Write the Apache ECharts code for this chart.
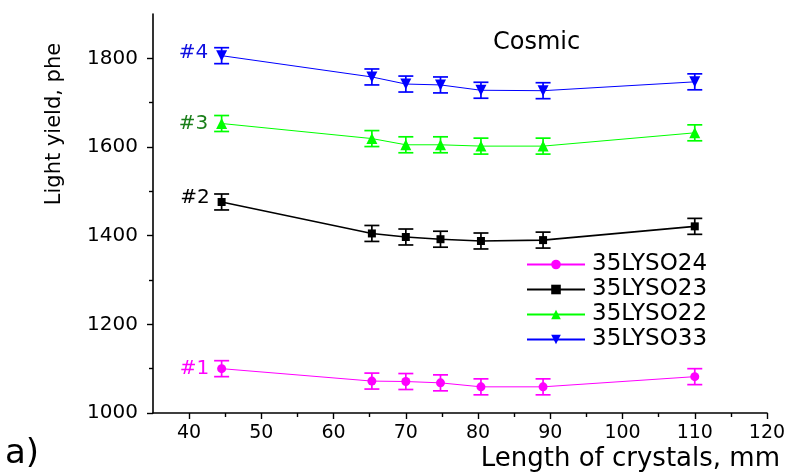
<!DOCTYPE html>
<html>
<head>
<meta charset="utf-8">
<script src="https://cdn.jsdelivr.net/npm/echarts@6/dist/echarts.min.js"></script>
<style>
  html, body { margin: 0; padding: 0; background: #ffffff; }
  #chart { width: 791px; height: 476px; }
</style>
</head>
<body>
<div id="chart"></div>
<script>
// Crystal lengths (mm) at which light yield was measured
const lengthsMm = [44.5, 65.3, 70, 74.8, 80.4, 89, 110];

// Sample names and their short tags
const seriesNames = ['35LYSO24', '35LYSO23', '35LYSO22', '35LYSO33'];
const crystalTags = ['#1', '#2', '#3', '#4'];

// Light yield, photoelectrons (cosmic muons)
const yield24 = [1100, 1072, 1071, 1068, 1059, 1059, 1082];
const yield23 = [1476, 1405, 1397, 1392, 1388, 1390, 1421];
const yield22 = [1653, 1619, 1605, 1605, 1602, 1602, 1632];
const yield33 = [1806, 1758, 1742, 1740, 1728, 1727, 1747];

// Measurement uncertainties (+/-), photoelectrons
const err24 = [18, 18, 18, 18, 18, 18, 18];
const err23 = [18, 18, 18, 18, 18, 18, 18];
const err22 = [18, 18, 18, 18, 18, 18, 18];
const err33 = [18, 18, 18, 18, 18, 18, 18];

// Axis ticks
const xTickValues = [40, 50, 60, 70, 80, 90, 100, 110, 120];
const xMinorTickValues = [45, 55, 65, 75, 85, 95, 105, 115];
const yTickValues = [1000, 1200, 1400, 1600, 1800];
const yMinorTickValues = [1100, 1300, 1500, 1700];

const FONT = 'DejaVu Sans';

const styles = [
  { color: '#ff00ff', tagColor: '#ff00ff', symbol: 'circle', size: 9, rotate: 0, width: 1 },
  { color: '#000000', tagColor: '#000000', symbol: 'rect', size: 8, rotate: 0, width: 1.6 },
  { color: '#00ff00', tagColor: '#1a7f1a', symbol: 'triangle', size: 11, rotate: 0, width: 1 },
  { color: '#0000ff', tagColor: '#1010e0', symbol: 'triangle', size: 11, rotate: 180, width: 1 }
];
const tagOffsets = [[0, 0], [0, -4], [0, 0], [0, -3]];

const allYields = [yield24, yield23, yield22, yield33];
const allErrors = [err24, err23, err22, err33];

function errorBarRenderer(color) {
  return function (params, api) {
    const x = api.value(0);
    const lo = api.coord([x, api.value(1)]);
    const hi = api.coord([x, api.value(2)]);
    const hw = 7.5;
    const st = { stroke: color, lineWidth: 1.7 };
    return {
      type: 'group',
      children: [
        { type: 'line', shape: { x1: lo[0], y1: lo[1], x2: hi[0], y2: hi[1] }, style: st },
        { type: 'line', shape: { x1: lo[0] - hw, y1: lo[1], x2: lo[0] + hw, y2: lo[1] }, style: st },
        { type: 'line', shape: { x1: hi[0] - hw, y1: hi[1], x2: hi[0] + hw, y2: hi[1] }, style: st }
      ]
    };
  };
}

const series = [];
allYields.forEach(function (ys, i) {
  const s = styles[i];
  series.push({
    name: 'err' + i,
    type: 'custom',
    xAxisIndex: 0,
    yAxisIndex: 0,
    renderItem: errorBarRenderer(s.color),
    data: ys.map(function (v, k) { return [lengthsMm[k], v - allErrors[i][k], v + allErrors[i][k]]; }),
    z: 2,
    silent: true
  });
});
allYields.forEach(function (ys, i) {
  const s = styles[i];
  series.push({
    name: seriesNames[i],
    type: 'line',
    xAxisIndex: 0,
    yAxisIndex: 0,
    symbol: s.symbol,
    symbolSize: s.size,
    symbolRotate: s.rotate,
    showAllSymbol: true,
    lineStyle: { color: s.color, width: s.width },
    itemStyle: { color: s.color, borderWidth: 0 },
    emphasis: { disabled: true },
    animation: false,
    z: 3,
    data: ys.map(function (v, k) {
      const item = { value: [lengthsMm[k], v] };
      if (k === 0) {
        item.label = {
          show: true,
          position: 'left',
          distance: 8,
          offset: tagOffsets[i],
          formatter: crystalTags[i],
          color: s.tagColor,
          fontFamily: FONT,
          fontSize: 20
        };
      }
      return item;
    })
  });
});

const plainNumber = function (v) { return String(v); };

const chart = echarts.init(document.getElementById('chart'), null, { renderer: 'canvas' });
chart.setOption({
  animation: false,
  backgroundColor: '#ffffff',
  grid: { left: 153, right: 24, top: 14, bottom: 63 },
  xAxis: [
    {
      type: 'value', min: 35, max: 120,
      axisLine: { show: true, onZero: false, lineStyle: { color: '#000', width: 1.6 } },
      axisTick: { show: true, length: 6, customValues: xTickValues, lineStyle: { color: '#000', width: 1.4 } },
      axisLabel: { customValues: xTickValues, formatter: plainNumber, margin: 11, color: '#000', fontFamily: FONT, fontSize: 19 },
      splitLine: { show: false }
    },
    {
      type: 'value', min: 35, max: 120, position: 'bottom',
      axisLine: { show: false },
      axisTick: { show: true, length: 4, customValues: xMinorTickValues, lineStyle: { color: '#000', width: 1.4 } },
      axisLabel: { show: false },
      splitLine: { show: false }
    }
  ],
  yAxis: [
    {
      type: 'value', min: 1000, max: 1900,
      axisLine: { show: true, onZero: false, lineStyle: { color: '#000', width: 1.6 } },
      axisTick: { show: true, length: 6, customValues: yTickValues, lineStyle: { color: '#000', width: 1.4 } },
      axisLabel: { customValues: yTickValues, formatter: plainNumber, margin: 15, color: '#000', fontFamily: FONT, fontSize: 20 },
      splitLine: { show: false }
    },
    {
      type: 'value', min: 1000, max: 1900, position: 'left',
      axisLine: { show: false },
      axisTick: { show: true, length: 4, customValues: yMinorTickValues, lineStyle: { color: '#000', width: 1.4 } },
      axisLabel: { show: false },
      splitLine: { show: false }
    }
  ],
  legend: {
    data: seriesNames,
    orient: 'vertical',
    left: 521,
    top: 248,
    itemWidth: 58,
    itemHeight: 12,
    itemGap: 2,
    selectedMode: false,
    textStyle: { color: '#000', fontFamily: FONT, fontSize: 23, lineHeight: 23, padding: [0, 0, 0, 2] }
  },
  graphic: [
    {
      type: 'text', left: 493, top: 31,
      style: { text: 'Cosmic', fill: '#000', font: '24px "DejaVu Sans"' }
    },
    {
      type: 'text', x: 55, y: 124, rotation: Math.PI / 2,
      style: { text: 'Light yield, phe', fill: '#000', font: '21px "DejaVu Sans"', align: 'center', verticalAlign: 'middle' }
    },
    {
      type: 'text', right: 11, top: 446,
      style: { text: 'Length of crystals, mm', fill: '#000', font: '26px "DejaVu Sans"' }
    },
    {
      type: 'text', left: 5, top: 437,
      style: { text: 'a)', fill: '#000', font: '34px "DejaVu Sans"' }
    }
  ],
  series: series
});
</script>
</body>
</html>
